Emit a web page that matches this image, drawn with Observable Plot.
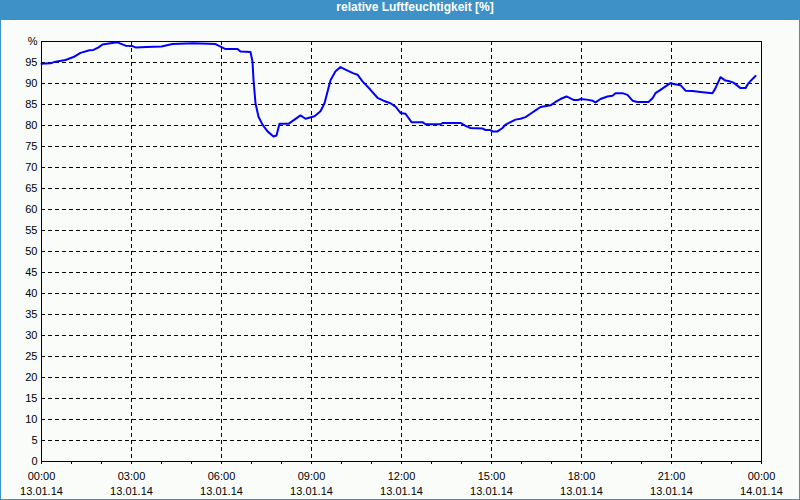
<!DOCTYPE html>
<html>
<head>
<meta charset="utf-8">
<script src="https://cdn.jsdelivr.net/npm/d3@7"></script>
<script src="https://cdn.jsdelivr.net/npm/@observablehq/plot@0.6"></script>
<style>
  html, body { margin: 0; padding: 0; background: #fafcfa; }
  #wrap { position: relative; width: 800px; height: 500px; overflow: hidden; background: #fafcfa; }
  #title { height: 20px; line-height: 20px; background: #3d91c6; color: #fff; font: bold 12px "Liberation Sans", Arial, sans-serif; text-align: center; padding-left: 30px; box-sizing: border-box; }
  #border { position: absolute; left: 0; top: 0; width: 800px; height: 500px; box-sizing: border-box; border: 1px solid #3d91c6; pointer-events: none; }
  #chart svg { display: block; }
</style>
</head>
<body>
<div id="wrap">
  <div id="title">relative Luftfeuchtigkeit [%]</div>
  <div id="chart"></div>
  <div id="border"></div>
</div>
<script>
// Measurement times (13.01.14) and relative humidity values [%]
const times = ["00:00","00:18","00:28","00:48","01:04","01:18","01:36","01:44","01:54","02:02","02:18","02:32","02:38","02:48","03:02","03:08","03:30","04:00","04:22","05:04","05:48","05:54","06:08","06:32","06:38","06:58","07:02","07:04","07:08","07:14","07:22","07:32","07:44","07:50","07:56","08:14","08:38","08:48","09:06","09:18","09:26","09:38","09:48","09:58","10:08","10:24","10:32","10:42","10:58","11:12","11:24","11:38","11:48","11:58","12:08","12:20","12:42","12:48","13:18","13:22","13:58","14:08","14:18","14:42","14:48","14:58","15:02","15:12","15:22","15:28","15:38","15:48","15:58","16:08","16:18","16:28","16:38","16:58","17:08","17:18","17:30","17:34","17:44","17:54","17:58","18:14","18:22","18:28","18:38","18:52","19:02","19:08","19:22","19:32","19:42","19:52","20:14","20:22","20:28","20:38","20:48","20:58","21:04","21:18","21:28","21:42","21:58","22:22","22:28","22:38","22:48","22:54","23:04","23:18","23:28","23:34","23:48"];
const values = [94.7,94.8,95.2,95.6,96.3,97.3,97.9,98.0,98.6,99.3,99.6,99.8,99.5,99.0,98.9,98.6,98.7,98.8,99.4,99.6,99.4,99.0,98.2,98.2,97.6,97.5,95.2,90.9,85.3,82.1,80.2,78.6,77.4,77.6,80.4,80.4,82.4,81.6,82.2,83.4,85.3,90.8,92.9,93.9,93.3,92.4,92.1,90.5,88.5,86.6,85.9,85.3,84.5,83.0,82.8,80.8,80.8,80.3,80.3,80.6,80.6,79.9,79.4,79.3,78.9,78.9,78.6,78.6,79.4,80.2,80.8,81.4,81.6,82.0,82.8,83.6,84.4,84.8,85.6,86.3,86.9,86.7,86.1,86.1,86.3,86.1,85.9,85.5,86.3,86.9,87.1,87.7,87.7,87.3,85.9,85.6,85.6,86.5,87.7,88.5,89.3,90.1,89.9,89.6,88.3,88.2,88.0,87.7,88.9,91.5,90.7,90.6,90.2,88.9,88.9,90.1,91.8];
const yTicks = [0,5,10,15,20,25,30,35,40,45,50,55,60,65,70,75,80,85,90,95,100];
const yGrid = [5,10,15,20,25,30,35,40,45,50,55,60,65,70,75,80,85,90,95];

const day0 = Date.UTC(2014, 0, 13);
const parse = t => new Date(day0 + (+t.slice(0,2)) * 3600e3 + (+t.slice(3,5)) * 60e3);
const data = times.map((t, i) => ({t: parse(t), v: values[i]}));
const x0 = new Date(day0), x1 = new Date(day0 + 24 * 3600e3);
const hourTicks = d3.utcHour.range(x0, new Date(+x1 + 1), 1);
const labelTicks = d3.utcHour.range(x0, new Date(+x1 + 1), 3);
const gridTicks = labelTicks.filter(d => +d !== +x0 && +d !== +x1);
const fmt = d3.utcFormat("%H:%M\n%d.%m.%y");

const chart = Plot.plot({
  width: 800,
  height: 480,
  marginTop: 21,
  marginBottom: 39,
  marginLeft: 41,
  marginRight: 39,
  style: {fontFamily: '"Liberation Sans", Arial, sans-serif', fontSize: "11px", background: "#fafcfa", color: "#000"},
  x: {type: "utc", domain: [x0, x1], label: null},
  y: {domain: [0, 100], label: null},
  marks: [
    Plot.gridX(gridTicks, {stroke: "#000", strokeOpacity: 1, strokeDasharray: "4,3"}),
    Plot.gridY(yGrid, {stroke: "#000", strokeOpacity: 1, strokeDasharray: "4,3"}),
    Plot.lineY(data, {x: "t", y: "v", stroke: "#0000ff", strokeWidth: 2}),
    Plot.frame({stroke: "#000"}),
    Plot.axisX(hourTicks, {tickSize: 3, tickFormat: () => "", stroke: "#000", label: null}),
    Plot.axisX(labelTicks, {tickSize: 0, tickPadding: 8, tickFormat: fmt, lineHeight: 1.38, fill: "#000", label: null}),
    Plot.axisY(yTicks, {tickSize: 0, tickPadding: 4, tickFormat: d => d === 100 ? "%" : String(d), fill: "#000", label: null})
  ]
});
document.getElementById("chart").appendChild(chart);
</script>
</body>
</html>
